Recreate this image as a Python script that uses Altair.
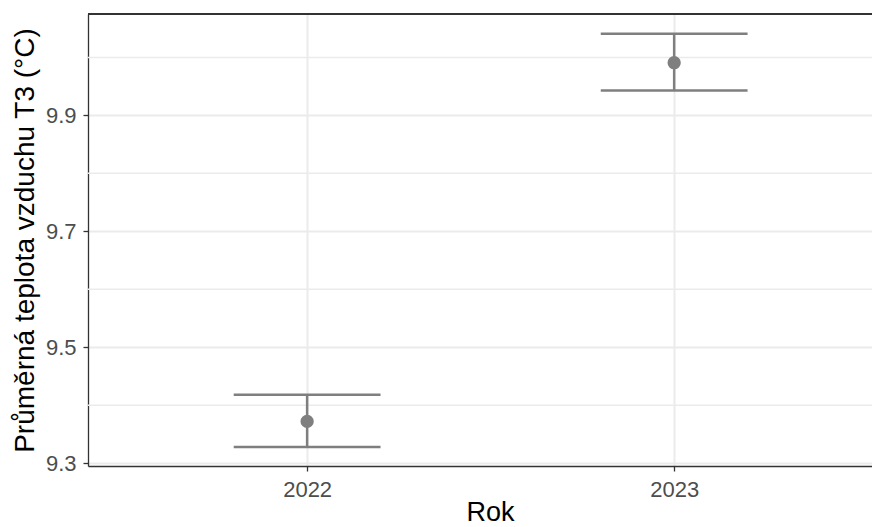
import altair as alt
import pandas as pd

# ---- data ----
years = [2022, 2023]
means = [9.372, 9.991]
lower = [9.328, 9.943]
upper = [9.418, 10.041]
y_major = [9.3, 9.5, 9.7, 9.9]
y_minor = [9.4, 9.6, 9.8, 10.0]
x_ticks = [2022, 2023]
cap_half = 0.2

df = pd.DataFrame({"rok": years, "mean": means, "lo": lower, "hi": upper})
df["cap_l"] = df["rok"] - cap_half
df["cap_r"] = df["rok"] + cap_half
minor_df = pd.DataFrame({"v": y_minor})

FONT = "Liberation Sans"
GREY = "#7F7F7F"
GRID = "#EBEBEB"
BORDER = "#333333"
W, H = 784, 452

xs = alt.Scale(domain=[2021.403, 2023.539], nice=False, zero=False)
ys = alt.Scale(domain=[9.295, 10.075], nice=False, zero=False)

x_axis = alt.Axis(values=x_ticks, format="d", title="Rok",
                  labelFontSize=22, labelColor="#4D4D4D", labelFont=FONT,
                  tickColor=BORDER, tickSize=5, tickWidth=1.3,
                  labelPadding=8, domain=True, domainColor=BORDER, domainWidth=1.5,
                  grid=True, gridColor=GRID, gridWidth=2,
                  titleFont=FONT, titleFontSize=27, titleFontWeight="normal",
                  titleColor="#000000", titleX=402, titleY=54,
                  titleAlign="center", titleBaseline="alphabetic")

y_axis = alt.Axis(values=y_major, format=".1f",
                  title="Průměrná teplota vzduchu T3 (°C)",
                  labelFontSize=22, labelColor="#4D4D4D", labelFont=FONT,
                  tickColor=BORDER, tickSize=5, tickWidth=1.3,
                  labelPadding=7, domain=True, domainColor=BORDER, domainWidth=1.3,
                  grid=True, gridColor=GRID, gridWidth=2,
                  titleFont=FONT, titleFontSize=28, titleFontWeight="normal",
                  titleColor="#000000", titleAngle=270, titleX=-55, titleY=226,
                  titleAlign="center", titleBaseline="alphabetic")

minor = alt.Chart(minor_df).mark_rule(color=GRID, strokeWidth=1.5).encode(
    y=alt.Y("v:Q", scale=ys, axis=y_axis)
)

top_border = alt.Chart(minor_df).mark_rule(color=BORDER, strokeWidth=1.5).encode(
    x=alt.value(0), x2=alt.value(W), y=alt.value(0)
)

base = alt.Chart(df)

stem = base.mark_rule(color=GREY, strokeWidth=2.5).encode(
    x=alt.X("rok:Q", scale=xs, axis=x_axis),
    y=alt.Y("lo:Q", scale=ys, axis=y_axis),
    y2="hi:Q",
)
cap_hi = base.mark_rule(color=GREY, strokeWidth=2.5).encode(
    x=alt.X("cap_l:Q", scale=xs, axis=x_axis),
    x2="cap_r:Q",
    y=alt.Y("hi:Q", scale=ys, axis=y_axis),
)
cap_lo = base.mark_rule(color=GREY, strokeWidth=2.5).encode(
    x=alt.X("cap_l:Q", scale=xs, axis=x_axis),
    x2="cap_r:Q",
    y=alt.Y("lo:Q", scale=ys, axis=y_axis),
)
pts = base.mark_circle(color=GREY, opacity=1, size=177).encode(
    x=alt.X("rok:Q", scale=xs, axis=x_axis),
    y=alt.Y("mean:Q", scale=ys, axis=y_axis),
)

chart = alt.layer(minor, stem, cap_hi, cap_lo, pts, top_border).properties(
    width=W, height=H,
    padding={"left": 80, "top": 6, "right": 0, "bottom": 64},
    autosize=alt.AutoSizeParams(type="none"),
    background="#FFFFFF",
).configure_view(strokeWidth=0)

chart.save("out.html", embed_options={"renderer": "svg", "actions": False})
